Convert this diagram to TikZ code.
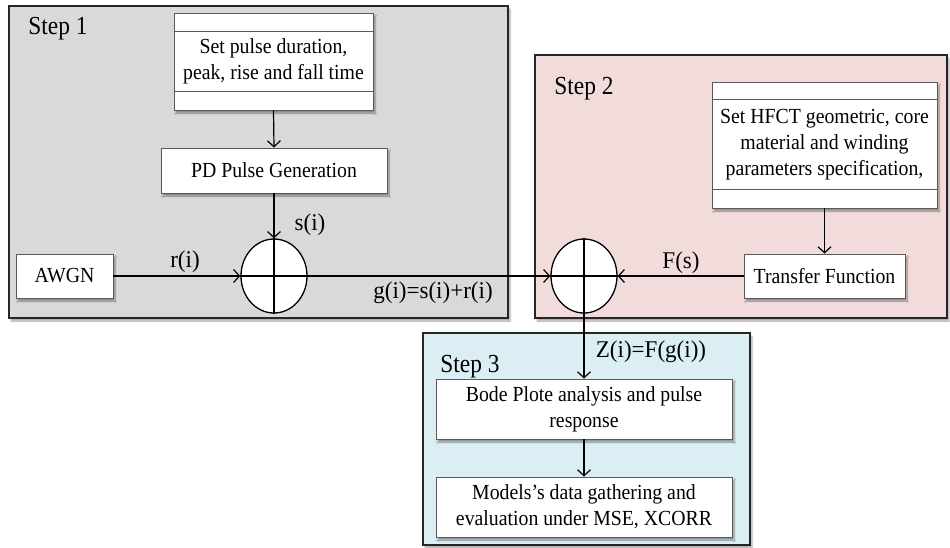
\documentclass[tikz,border=0pt]{standalone}
\usepackage{fontspec}
\setmainfont{Liberation Serif}
\newfontfamily\boxfont[FakeStretch=0.92]{Liberation Serif}
\newfontfamily\stepfont[FakeStretch=0.9]{Liberation Serif}
\newfontfamily\sigfont[FakeStretch=0.96]{Liberation Serif}
\usetikzlibrary{arrows.meta,shapes.geometric,shadows.blur}
\definecolor{stepgray}{RGB}{217,217,217}
\definecolor{steppink}{RGB}{242,220,219}
\definecolor{stepblue}{RGB}{218,238,243}
\tikzset{
  stepframe/.style={draw=black!85,line width=1.3pt,blur shadow={shadow xshift=2pt,shadow yshift=-3pt,shadow blur steps=5,shadow opacity=35}},
  steplabel/.style={font=\stepfont\fontsize{26}{30}\selectfont,inner sep=0pt},
  procbox/.style={draw=black!65,line width=0.9pt,fill=white,align=center,inner sep=0pt,
     font=\boxfont\fontsize{21.5}{26}\selectfont,blur shadow={shadow xshift=2pt,shadow yshift=-3pt,shadow blur steps=5,shadow opacity=40}},
  sumnode/.style={ellipse,draw=black,line width=1.3pt,fill=white,minimum width=66pt,minimum height=74pt,inner sep=0pt},
  sig/.style={font=\sigfont\fontsize{24}{28}\selectfont,inner sep=0pt},
  conn/.style={line width=1.2pt,-{Straight Barb[length=6pt,width=13pt,line width=1.2pt]}},
  plain/.style={line width=1.2pt}
}
\begin{document}
\begin{tikzpicture}[x=1pt,y=-1pt]
\useasboundingbox (0,0) rectangle (950,547);
% step frames
\path[stepframe,fill=stepgray] (9,6) rectangle (508,318);
\path[stepframe,fill=steppink] (535,55) rectangle (947,318);
\path[stepframe,fill=stepblue] (423,333) rectangle (750,545);
\node[steplabel] (s1) at (58,29) {Step 1};
\node[steplabel] (s2) at (584,89) {Step 2};
\node[steplabel] (s3) at (470,367) {Step 3};
% step 1 content
\node[procbox,minimum width=199pt,minimum height=97pt] (setp) at (273.5,61.5)
  {Set pulse duration,\\peak, rise and fall time};
\draw[black!65,line width=0.9pt] ([yshift=-19pt]setp.north west) -- ([yshift=-19pt]setp.north east);
\draw[black!65,line width=0.9pt] ([yshift=19pt]setp.south west) -- ([yshift=19pt]setp.south east);
\node[procbox,minimum width=226pt,minimum height=45pt] (pdg) at (274,170.5) {PD Pulse Generation};
\node[procbox,minimum width=97pt,minimum height=44pt] (awgn) at (64.5,276) {AWGN};
\node[sumnode] (c1) at (274,276) {};
\draw[plain] (c1.north) -- (c1.south) (c1.west) -- (c1.east);
\draw[conn] (setp.south) -- (pdg.north);
\draw[conn] (pdg.south) -- (c1.north);
\draw[conn] (awgn.east) -- (c1.west);
\node[sig] (ri) at (185,262) {r(i)};
\node[sig] (si) at (310,225) {s(i)};
\node[sig] (gi) at (433,293) {g(i)=s(i)+r(i)};
% step 2 content
\node[procbox,minimum width=225pt,minimum height=126pt] (hfct) at (824.5,145)
  {Set HFCT geometric, core\\material and winding\\parameters specification,};
\draw[black!65,line width=0.9pt] ([yshift=-18pt]hfct.north west) -- ([yshift=-18pt]hfct.north east);
\draw[black!65,line width=0.9pt] ([yshift=19pt]hfct.south west) -- ([yshift=19pt]hfct.south east);
\node[procbox,minimum width=161pt,minimum height=44pt] (tf) at (824.5,276) {Transfer Function};
\node[sumnode] (c2) at (584,276) {};
\draw[plain] (c2.north) -- (c2.south) (c2.west) -- (c2.east);
\draw[conn] (hfct.south) -- (tf.north);
\draw[conn] (tf.west) -- (c2.east);
\draw[conn] (c1.east) -- (c2.west);
\node[sig] (fs) at (681,263) {F(s)};
% step 3 content
\node[procbox,minimum width=296pt,minimum height=60pt] (bode) at (584,409)
  {Bode Plote analysis and pulse\\response};
\node[procbox,minimum width=296pt,minimum height=60pt] (mod) at (584,507)
  {Models’s data gathering and\\evaluation under MSE, XCORR};
\draw[conn] (c2.south) -- (bode.north);
\draw[conn] (bode.south) -- (mod.north);
\node[sig] (zi) at (651,352) {Z(i)=F(g(i))};
\end{tikzpicture}
\end{document}
